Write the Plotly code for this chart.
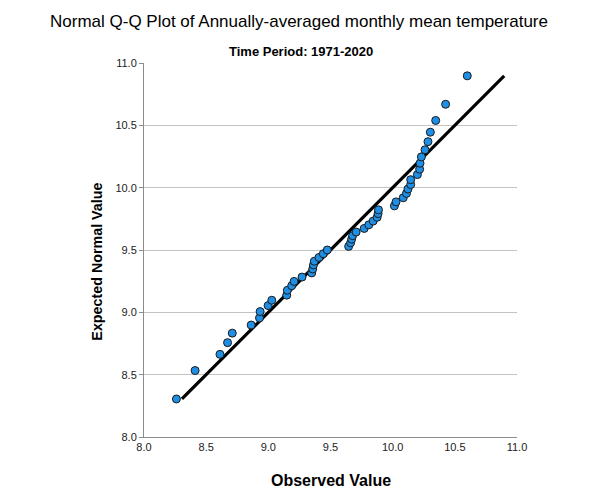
import plotly.graph_objects as go

observed = [8.261, 8.411, 8.611, 8.672, 8.710, 8.862, 8.929, 8.934, 8.998, 9.028,
            9.148, 9.153, 9.188, 9.207, 9.271, 9.349, 9.357, 9.363, 9.370, 9.407,
            9.442, 9.474, 9.646, 9.662, 9.670, 9.678, 9.706, 9.771, 9.808, 9.843,
            9.875, 9.883, 9.886, 10.014, 10.027, 10.085, 10.111, 10.123, 10.145, 10.145,
            10.199, 10.217, 10.220, 10.231, 10.260, 10.284, 10.303, 10.346, 10.426, 10.600]
expected = [8.305, 8.533, 8.663, 8.757, 8.833, 8.898, 8.955, 9.006, 9.054, 9.097,
            9.138, 9.177, 9.213, 9.248, 9.283, 9.316, 9.348, 9.380, 9.410, 9.440,
            9.470, 9.500, 9.529, 9.558, 9.587, 9.615, 9.644, 9.673, 9.702, 9.732,
            9.762, 9.792, 9.822, 9.854, 9.886, 9.919, 9.954, 9.989, 10.025, 10.064,
            10.105, 10.148, 10.196, 10.247, 10.304, 10.369, 10.445, 10.539, 10.669, 10.897]
ref_line = [8.305, 10.897]
tick_vals = [8.0, 8.5, 9.0, 9.5, 10.0, 10.5, 11.0]
tick_text = ["8.0", "8.5", "9.0", "9.5", "10.0", "10.5", "11.0"]

title_text = "Normal Q-Q Plot of Annually-averaged monthly mean temperature"
subtitle_text = "Time Period: 1971-2020"
x_title = "Observed Value"
y_title = "Expected Normal Value"

FONT = "Liberation Sans, Arial, sans-serif"

# page body has an 8px margin, so the figure is sized/placed accordingly
OFF = 8
W, H = 598 - OFF, 503 - OFF
L, R, T, B = 143.5 - OFF, 80.5, 63.3 - OFF, 66.3

fig = go.Figure()
fig.add_trace(go.Scatter(x=ref_line, y=ref_line, mode="lines",
                         line=dict(color="black", width=3.2), hoverinfo="skip",
                         showlegend=False))
fig.add_trace(go.Scatter(x=observed, y=expected, mode="markers",
                         marker=dict(color="#1e8fe4", size=8,
                                     line=dict(color="#1a1a1a", width=1)),
                         showlegend=False))

fig.update_layout(
    width=W, height=H,
    margin=dict(l=L, r=R, t=T, b=B),
    paper_bgcolor="white", plot_bgcolor="white",
    font=dict(family=FONT, color="#222222"),
    xaxis=dict(range=[8.0, 11.0], tickvals=tick_vals, ticktext=tick_text,
               showgrid=False, zeroline=False, showline=True, linecolor="#8c8c8c",
               linewidth=1, ticks="", tickfont=dict(size=11, color="#222222")),
    yaxis=dict(range=[8.0, 11.0], tickvals=tick_vals, ticktext=tick_text,
               showgrid=True, gridcolor="#c4c4c4", gridwidth=1, zeroline=False,
               showline=True, linecolor="#8c8c8c", linewidth=1,
               ticks="outside", ticklen=4, tickcolor="#8c8c8c",
               tickfont=dict(size=11, color="#222222")),
    annotations=[
        dict(text=title_text, x=299, y=22, showarrow=False,
             font=dict(size=17, color="black", family=FONT)),
        dict(text="<b>" + subtitle_text + "</b>", x=300.5, y=52, showarrow=False,
             font=dict(size=13, color="black", family=FONT)),
        dict(text="<b>" + x_title + "</b>", x=331.5, y=480, showarrow=False,
             font=dict(size=16, color="black", family=FONT)),
        dict(text="<b>" + y_title + "</b>", x=96, y=262, showarrow=False, textangle=-90,
             font=dict(size=14.3, color="black", family=FONT)),
    ],
)

# convert window pixel positions of annotations into paper coordinates
pw = W - L - R
ph = H - T - B
for a in fig.layout.annotations:
    px, py = a.x - OFF, a.y - OFF
    a.xref = "paper"
    a.yref = "paper"
    a.x = (px - L) / pw
    a.y = (H - B - py) / ph
    a.xanchor = "center"
    a.yanchor = "middle"

fig.write_html("out.html")
